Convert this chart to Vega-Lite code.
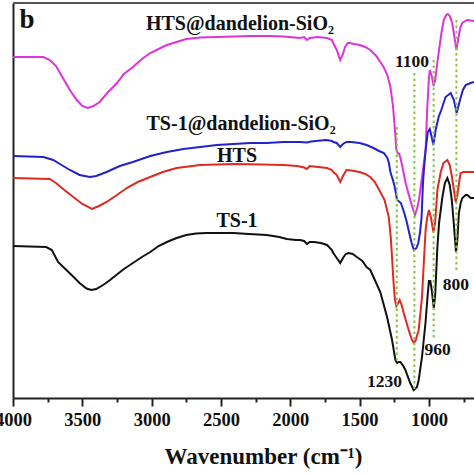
{
  "$schema": "https://vega.github.io/schema/vega-lite/v6.json",
  "autosize": {"type": "none"},
  "padding": {"left": 13, "top": 3, "right": 0, "bottom": 76},
  "width": 461,
  "height": 395,
  "background": "white",
  "config": {"view": {"stroke": null}, "font": "Liberation Serif"},
  "resolve": {"axis": {"x": "independent", "y": "independent"}},
  "datasets": {
    "curves": [
      {"s": "HTS@dandelion-SiO2", "wn": 4000, "t": 341}, {"s": "HTS@dandelion-SiO2", "wn": 3780, "t": 341},
      {"s": "HTS@dandelion-SiO2", "wn": 3735, "t": 338}, {"s": "HTS@dandelion-SiO2", "wn": 3690, "t": 332},
      {"s": "HTS@dandelion-SiO2", "wn": 3640, "t": 320}, {"s": "HTS@dandelion-SiO2", "wn": 3590, "t": 308},
      {"s": "HTS@dandelion-SiO2", "wn": 3540, "t": 298}, {"s": "HTS@dandelion-SiO2", "wn": 3500, "t": 292},
      {"s": "HTS@dandelion-SiO2", "wn": 3460, "t": 290}, {"s": "HTS@dandelion-SiO2", "wn": 3420, "t": 292},
      {"s": "HTS@dandelion-SiO2", "wn": 3375, "t": 296}, {"s": "HTS@dandelion-SiO2", "wn": 3320, "t": 305},
      {"s": "HTS@dandelion-SiO2", "wn": 3250, "t": 315}, {"s": "HTS@dandelion-SiO2", "wn": 3200, "t": 324},
      {"s": "HTS@dandelion-SiO2", "wn": 3135, "t": 331}, {"s": "HTS@dandelion-SiO2", "wn": 3070, "t": 339},
      {"s": "HTS@dandelion-SiO2", "wn": 3010, "t": 345}, {"s": "HTS@dandelion-SiO2", "wn": 2950, "t": 349},
      {"s": "HTS@dandelion-SiO2", "wn": 2890, "t": 353}, {"s": "HTS@dandelion-SiO2", "wn": 2820, "t": 356},
      {"s": "HTS@dandelion-SiO2", "wn": 2750, "t": 359}, {"s": "HTS@dandelion-SiO2", "wn": 2650, "t": 360.5},
      {"s": "HTS@dandelion-SiO2", "wn": 2530, "t": 361}, {"s": "HTS@dandelion-SiO2", "wn": 2400, "t": 361.5},
      {"s": "HTS@dandelion-SiO2", "wn": 2290, "t": 362}, {"s": "HTS@dandelion-SiO2", "wn": 2150, "t": 362},
      {"s": "HTS@dandelion-SiO2", "wn": 2050, "t": 361.5}, {"s": "HTS@dandelion-SiO2", "wn": 1970, "t": 360.5},
      {"s": "HTS@dandelion-SiO2", "wn": 1930, "t": 360}, {"s": "HTS@dandelion-SiO2", "wn": 1900, "t": 361},
      {"s": "HTS@dandelion-SiO2", "wn": 1880, "t": 358}, {"s": "HTS@dandelion-SiO2", "wn": 1860, "t": 360},
      {"s": "HTS@dandelion-SiO2", "wn": 1800, "t": 361}, {"s": "HTS@dandelion-SiO2", "wn": 1735, "t": 360},
      {"s": "HTS@dandelion-SiO2", "wn": 1700, "t": 358}, {"s": "HTS@dandelion-SiO2", "wn": 1690, "t": 355},
      {"s": "HTS@dandelion-SiO2", "wn": 1665, "t": 348}, {"s": "HTS@dandelion-SiO2", "wn": 1640, "t": 338},
      {"s": "HTS@dandelion-SiO2", "wn": 1620, "t": 344}, {"s": "HTS@dandelion-SiO2", "wn": 1605, "t": 351},
      {"s": "HTS@dandelion-SiO2", "wn": 1585, "t": 355}, {"s": "HTS@dandelion-SiO2", "wn": 1570, "t": 355},
      {"s": "HTS@dandelion-SiO2", "wn": 1540, "t": 354}, {"s": "HTS@dandelion-SiO2", "wn": 1500, "t": 353},
      {"s": "HTS@dandelion-SiO2", "wn": 1460, "t": 351}, {"s": "HTS@dandelion-SiO2", "wn": 1423, "t": 348},
      {"s": "HTS@dandelion-SiO2", "wn": 1380, "t": 342}, {"s": "HTS@dandelion-SiO2", "wn": 1327, "t": 331},
      {"s": "HTS@dandelion-SiO2", "wn": 1300, "t": 323}, {"s": "HTS@dandelion-SiO2", "wn": 1278, "t": 311},
      {"s": "HTS@dandelion-SiO2", "wn": 1260, "t": 293}, {"s": "HTS@dandelion-SiO2", "wn": 1245, "t": 268},
      {"s": "HTS@dandelion-SiO2", "wn": 1235, "t": 248}, {"s": "HTS@dandelion-SiO2", "wn": 1225, "t": 245},
      {"s": "HTS@dandelion-SiO2", "wn": 1215, "t": 244}, {"s": "HTS@dandelion-SiO2", "wn": 1205, "t": 240},
      {"s": "HTS@dandelion-SiO2", "wn": 1190, "t": 230}, {"s": "HTS@dandelion-SiO2", "wn": 1168, "t": 215},
      {"s": "HTS@dandelion-SiO2", "wn": 1145, "t": 203}, {"s": "HTS@dandelion-SiO2", "wn": 1120, "t": 191},
      {"s": "HTS@dandelion-SiO2", "wn": 1101, "t": 183}, {"s": "HTS@dandelion-SiO2", "wn": 1085, "t": 190},
      {"s": "HTS@dandelion-SiO2", "wn": 1072, "t": 198}, {"s": "HTS@dandelion-SiO2", "wn": 1043, "t": 228},
      {"s": "HTS@dandelion-SiO2", "wn": 1024, "t": 248}, {"s": "HTS@dandelion-SiO2", "wn": 1013, "t": 288},
      {"s": "HTS@dandelion-SiO2", "wn": 1000, "t": 320}, {"s": "HTS@dandelion-SiO2", "wn": 994, "t": 328},
      {"s": "HTS@dandelion-SiO2", "wn": 980, "t": 322}, {"s": "HTS@dandelion-SiO2", "wn": 966, "t": 312},
      {"s": "HTS@dandelion-SiO2", "wn": 955, "t": 318}, {"s": "HTS@dandelion-SiO2", "wn": 940, "t": 335},
      {"s": "HTS@dandelion-SiO2", "wn": 925, "t": 350}, {"s": "HTS@dandelion-SiO2", "wn": 910, "t": 365},
      {"s": "HTS@dandelion-SiO2", "wn": 893, "t": 378}, {"s": "HTS@dandelion-SiO2", "wn": 875, "t": 383},
      {"s": "HTS@dandelion-SiO2", "wn": 864, "t": 384}, {"s": "HTS@dandelion-SiO2", "wn": 850, "t": 382},
      {"s": "HTS@dandelion-SiO2", "wn": 832, "t": 375}, {"s": "HTS@dandelion-SiO2", "wn": 815, "t": 360},
      {"s": "HTS@dandelion-SiO2", "wn": 802, "t": 348}, {"s": "HTS@dandelion-SiO2", "wn": 790, "t": 358},
      {"s": "HTS@dandelion-SiO2", "wn": 775, "t": 370}, {"s": "HTS@dandelion-SiO2", "wn": 760, "t": 375},
      {"s": "HTS@dandelion-SiO2", "wn": 724, "t": 378}, {"s": "HTS@dandelion-SiO2", "wn": 700, "t": 377.5},
      {"s": "HTS@dandelion-SiO2", "wn": 675, "t": 377},

      {"s": "TS-1@dandelion-SiO2", "wn": 4000, "t": 242}, {"s": "TS-1@dandelion-SiO2", "wn": 3780, "t": 241},
      {"s": "TS-1@dandelion-SiO2", "wn": 3710, "t": 238}, {"s": "TS-1@dandelion-SiO2", "wn": 3650, "t": 233},
      {"s": "TS-1@dandelion-SiO2", "wn": 3590, "t": 228}, {"s": "TS-1@dandelion-SiO2", "wn": 3520, "t": 223},
      {"s": "TS-1@dandelion-SiO2", "wn": 3445, "t": 221}, {"s": "TS-1@dandelion-SiO2", "wn": 3400, "t": 222},
      {"s": "TS-1@dandelion-SiO2", "wn": 3325, "t": 226}, {"s": "TS-1@dandelion-SiO2", "wn": 3230, "t": 232},
      {"s": "TS-1@dandelion-SiO2", "wn": 3135, "t": 236}, {"s": "TS-1@dandelion-SiO2", "wn": 3010, "t": 242},
      {"s": "TS-1@dandelion-SiO2", "wn": 2890, "t": 246}, {"s": "TS-1@dandelion-SiO2", "wn": 2770, "t": 249},
      {"s": "TS-1@dandelion-SiO2", "wn": 2650, "t": 251}, {"s": "TS-1@dandelion-SiO2", "wn": 2530, "t": 253},
      {"s": "TS-1@dandelion-SiO2", "wn": 2410, "t": 254}, {"s": "TS-1@dandelion-SiO2", "wn": 2290, "t": 255},
      {"s": "TS-1@dandelion-SiO2", "wn": 2170, "t": 255}, {"s": "TS-1@dandelion-SiO2", "wn": 2050, "t": 256},
      {"s": "TS-1@dandelion-SiO2", "wn": 1930, "t": 256}, {"s": "TS-1@dandelion-SiO2", "wn": 1880, "t": 255.5},
      {"s": "TS-1@dandelion-SiO2", "wn": 1850, "t": 256.5}, {"s": "TS-1@dandelion-SiO2", "wn": 1780, "t": 257.5},
      {"s": "TS-1@dandelion-SiO2", "wn": 1740, "t": 258}, {"s": "TS-1@dandelion-SiO2", "wn": 1700, "t": 257},
      {"s": "TS-1@dandelion-SiO2", "wn": 1690, "t": 256}, {"s": "TS-1@dandelion-SiO2", "wn": 1665, "t": 255},
      {"s": "TS-1@dandelion-SiO2", "wn": 1640, "t": 251}, {"s": "TS-1@dandelion-SiO2", "wn": 1620, "t": 254},
      {"s": "TS-1@dandelion-SiO2", "wn": 1595, "t": 256}, {"s": "TS-1@dandelion-SiO2", "wn": 1560, "t": 256},
      {"s": "TS-1@dandelion-SiO2", "wn": 1500, "t": 255}, {"s": "TS-1@dandelion-SiO2", "wn": 1450, "t": 253},
      {"s": "TS-1@dandelion-SiO2", "wn": 1400, "t": 250}, {"s": "TS-1@dandelion-SiO2", "wn": 1360, "t": 247},
      {"s": "TS-1@dandelion-SiO2", "wn": 1325, "t": 245}, {"s": "TS-1@dandelion-SiO2", "wn": 1300, "t": 240},
      {"s": "TS-1@dandelion-SiO2", "wn": 1289, "t": 235}, {"s": "TS-1@dandelion-SiO2", "wn": 1278, "t": 226},
      {"s": "TS-1@dandelion-SiO2", "wn": 1260, "t": 218}, {"s": "TS-1@dandelion-SiO2", "wn": 1250, "t": 213},
      {"s": "TS-1@dandelion-SiO2", "wn": 1240, "t": 206}, {"s": "TS-1@dandelion-SiO2", "wn": 1230, "t": 198},
      {"s": "TS-1@dandelion-SiO2", "wn": 1220, "t": 197}, {"s": "TS-1@dandelion-SiO2", "wn": 1202, "t": 195},
      {"s": "TS-1@dandelion-SiO2", "wn": 1178, "t": 185}, {"s": "TS-1@dandelion-SiO2", "wn": 1160, "t": 176},
      {"s": "TS-1@dandelion-SiO2", "wn": 1142, "t": 165}, {"s": "TS-1@dandelion-SiO2", "wn": 1125, "t": 155},
      {"s": "TS-1@dandelion-SiO2", "wn": 1108, "t": 148}, {"s": "TS-1@dandelion-SiO2", "wn": 1090, "t": 150},
      {"s": "TS-1@dandelion-SiO2", "wn": 1077, "t": 155}, {"s": "TS-1@dandelion-SiO2", "wn": 1065, "t": 165},
      {"s": "TS-1@dandelion-SiO2", "wn": 1053, "t": 181}, {"s": "TS-1@dandelion-SiO2", "wn": 1043, "t": 215},
      {"s": "TS-1@dandelion-SiO2", "wn": 1034, "t": 232}, {"s": "TS-1@dandelion-SiO2", "wn": 1024, "t": 248},
      {"s": "TS-1@dandelion-SiO2", "wn": 1008, "t": 266}, {"s": "TS-1@dandelion-SiO2", "wn": 994, "t": 269},
      {"s": "TS-1@dandelion-SiO2", "wn": 980, "t": 261}, {"s": "TS-1@dandelion-SiO2", "wn": 968, "t": 253},
      {"s": "TS-1@dandelion-SiO2", "wn": 952, "t": 268}, {"s": "TS-1@dandelion-SiO2", "wn": 930, "t": 281},
      {"s": "TS-1@dandelion-SiO2", "wn": 911, "t": 288}, {"s": "TS-1@dandelion-SiO2", "wn": 880, "t": 301},
      {"s": "TS-1@dandelion-SiO2", "wn": 843, "t": 305}, {"s": "TS-1@dandelion-SiO2", "wn": 820, "t": 298},
      {"s": "TS-1@dandelion-SiO2", "wn": 800, "t": 285}, {"s": "TS-1@dandelion-SiO2", "wn": 776, "t": 298},
      {"s": "TS-1@dandelion-SiO2", "wn": 755, "t": 308}, {"s": "TS-1@dandelion-SiO2", "wn": 735, "t": 313},
      {"s": "TS-1@dandelion-SiO2", "wn": 699, "t": 315}, {"s": "TS-1@dandelion-SiO2", "wn": 675, "t": 316},

      {"s": "HTS", "wn": 4000, "t": 220}, {"s": "HTS", "wn": 3735, "t": 219},
      {"s": "HTS", "wn": 3690, "t": 215}, {"s": "HTS", "wn": 3630, "t": 208},
      {"s": "HTS", "wn": 3565, "t": 201}, {"s": "HTS", "wn": 3500, "t": 194},
      {"s": "HTS", "wn": 3430, "t": 189}, {"s": "HTS", "wn": 3380, "t": 192},
      {"s": "HTS", "wn": 3325, "t": 196}, {"s": "HTS", "wn": 3250, "t": 203},
      {"s": "HTS", "wn": 3180, "t": 210}, {"s": "HTS", "wn": 3100, "t": 216},
      {"s": "HTS", "wn": 3010, "t": 221}, {"s": "HTS", "wn": 2920, "t": 226},
      {"s": "HTS", "wn": 2820, "t": 230}, {"s": "HTS", "wn": 2650, "t": 233},
      {"s": "HTS", "wn": 2410, "t": 234}, {"s": "HTS", "wn": 2200, "t": 233.5},
      {"s": "HTS", "wn": 2050, "t": 233}, {"s": "HTS", "wn": 1950, "t": 232},
      {"s": "HTS", "wn": 1900, "t": 230.5}, {"s": "HTS", "wn": 1880, "t": 229},
      {"s": "HTS", "wn": 1860, "t": 232}, {"s": "HTS", "wn": 1800, "t": 231},
      {"s": "HTS", "wn": 1735, "t": 230}, {"s": "HTS", "wn": 1700, "t": 228},
      {"s": "HTS", "wn": 1690, "t": 226}, {"s": "HTS", "wn": 1665, "t": 223},
      {"s": "HTS", "wn": 1640, "t": 216}, {"s": "HTS", "wn": 1620, "t": 222},
      {"s": "HTS", "wn": 1595, "t": 228}, {"s": "HTS", "wn": 1560, "t": 227.5},
      {"s": "HTS", "wn": 1500, "t": 226}, {"s": "HTS", "wn": 1460, "t": 224},
      {"s": "HTS", "wn": 1423, "t": 221}, {"s": "HTS", "wn": 1390, "t": 216},
      {"s": "HTS", "wn": 1351, "t": 206}, {"s": "HTS", "wn": 1320, "t": 198},
      {"s": "HTS", "wn": 1290, "t": 181}, {"s": "HTS", "wn": 1275, "t": 160},
      {"s": "HTS", "wn": 1265, "t": 138}, {"s": "HTS", "wn": 1255, "t": 115},
      {"s": "HTS", "wn": 1245, "t": 98}, {"s": "HTS", "wn": 1235, "t": 92},
      {"s": "HTS", "wn": 1222, "t": 95}, {"s": "HTS", "wn": 1211, "t": 98},
      {"s": "HTS", "wn": 1195, "t": 92}, {"s": "HTS", "wn": 1182, "t": 85},
      {"s": "HTS", "wn": 1146, "t": 68}, {"s": "HTS", "wn": 1125, "t": 59},
      {"s": "HTS", "wn": 1108, "t": 55}, {"s": "HTS", "wn": 1095, "t": 58},
      {"s": "HTS", "wn": 1074, "t": 68}, {"s": "HTS", "wn": 1050, "t": 101},
      {"s": "HTS", "wn": 1036, "t": 138}, {"s": "HTS", "wn": 1024, "t": 168},
      {"s": "HTS", "wn": 1013, "t": 180}, {"s": "HTS", "wn": 1000, "t": 188},
      {"s": "HTS", "wn": 985, "t": 180}, {"s": "HTS", "wn": 968, "t": 166},
      {"s": "HTS", "wn": 955, "t": 176}, {"s": "HTS", "wn": 939, "t": 208},
      {"s": "HTS", "wn": 915, "t": 226}, {"s": "HTS", "wn": 895, "t": 235},
      {"s": "HTS", "wn": 867, "t": 238}, {"s": "HTS", "wn": 850, "t": 233},
      {"s": "HTS", "wn": 835, "t": 222}, {"s": "HTS", "wn": 820, "t": 208},
      {"s": "HTS", "wn": 807, "t": 196}, {"s": "HTS", "wn": 795, "t": 203},
      {"s": "HTS", "wn": 780, "t": 218}, {"s": "HTS", "wn": 771, "t": 225},
      {"s": "HTS", "wn": 750, "t": 226}, {"s": "HTS", "wn": 700, "t": 226},
      {"s": "HTS", "wn": 675, "t": 226},

      {"s": "TS-1", "wn": 4000, "t": 152}, {"s": "TS-1", "wn": 3760, "t": 151},
      {"s": "TS-1", "wn": 3720, "t": 148}, {"s": "TS-1", "wn": 3675, "t": 136},
      {"s": "TS-1", "wn": 3615, "t": 128}, {"s": "TS-1", "wn": 3570, "t": 122},
      {"s": "TS-1", "wn": 3520, "t": 115}, {"s": "TS-1", "wn": 3470, "t": 109.5},
      {"s": "TS-1", "wn": 3435, "t": 108}, {"s": "TS-1", "wn": 3400, "t": 109},
      {"s": "TS-1", "wn": 3350, "t": 113}, {"s": "TS-1", "wn": 3300, "t": 118},
      {"s": "TS-1", "wn": 3255, "t": 123}, {"s": "TS-1", "wn": 3200, "t": 129},
      {"s": "TS-1", "wn": 3135, "t": 135}, {"s": "TS-1", "wn": 3070, "t": 141},
      {"s": "TS-1", "wn": 3010, "t": 146}, {"s": "TS-1", "wn": 2950, "t": 152},
      {"s": "TS-1", "wn": 2890, "t": 156}, {"s": "TS-1", "wn": 2820, "t": 160},
      {"s": "TS-1", "wn": 2750, "t": 163}, {"s": "TS-1", "wn": 2680, "t": 164.5},
      {"s": "TS-1", "wn": 2605, "t": 165}, {"s": "TS-1", "wn": 2500, "t": 165},
      {"s": "TS-1", "wn": 2410, "t": 165}, {"s": "TS-1", "wn": 2300, "t": 164},
      {"s": "TS-1", "wn": 2170, "t": 163}, {"s": "TS-1", "wn": 2080, "t": 161},
      {"s": "TS-1", "wn": 2025, "t": 159}, {"s": "TS-1", "wn": 1960, "t": 158},
      {"s": "TS-1", "wn": 1930, "t": 158}, {"s": "TS-1", "wn": 1900, "t": 157},
      {"s": "TS-1", "wn": 1880, "t": 154}, {"s": "TS-1", "wn": 1860, "t": 156},
      {"s": "TS-1", "wn": 1830, "t": 156}, {"s": "TS-1", "wn": 1780, "t": 155},
      {"s": "TS-1", "wn": 1735, "t": 153}, {"s": "TS-1", "wn": 1700, "t": 148},
      {"s": "TS-1", "wn": 1690, "t": 145}, {"s": "TS-1", "wn": 1665, "t": 140},
      {"s": "TS-1", "wn": 1640, "t": 135}, {"s": "TS-1", "wn": 1620, "t": 140},
      {"s": "TS-1", "wn": 1600, "t": 144}, {"s": "TS-1", "wn": 1580, "t": 145},
      {"s": "TS-1", "wn": 1550, "t": 144}, {"s": "TS-1", "wn": 1520, "t": 141},
      {"s": "TS-1", "wn": 1480, "t": 137}, {"s": "TS-1", "wn": 1450, "t": 131},
      {"s": "TS-1", "wn": 1423, "t": 128}, {"s": "TS-1", "wn": 1400, "t": 121},
      {"s": "TS-1", "wn": 1351, "t": 106}, {"s": "TS-1", "wn": 1302, "t": 81},
      {"s": "TS-1", "wn": 1266, "t": 58}, {"s": "TS-1", "wn": 1242, "t": 38},
      {"s": "TS-1", "wn": 1230, "t": 35}, {"s": "TS-1", "wn": 1218, "t": 36},
      {"s": "TS-1", "wn": 1206, "t": 36}, {"s": "TS-1", "wn": 1185, "t": 32},
      {"s": "TS-1", "wn": 1170, "t": 28}, {"s": "TS-1", "wn": 1135, "t": 15},
      {"s": "TS-1", "wn": 1110, "t": 8}, {"s": "TS-1", "wn": 1086, "t": 11},
      {"s": "TS-1", "wn": 1074, "t": 18}, {"s": "TS-1", "wn": 1050, "t": 41},
      {"s": "TS-1", "wn": 1025, "t": 75}, {"s": "TS-1", "wn": 1008, "t": 105},
      {"s": "TS-1", "wn": 1000, "t": 117}, {"s": "TS-1", "wn": 990, "t": 117},
      {"s": "TS-1", "wn": 980, "t": 108}, {"s": "TS-1", "wn": 965, "t": 90},
      {"s": "TS-1", "wn": 955, "t": 103}, {"s": "TS-1", "wn": 945, "t": 133},
      {"s": "TS-1", "wn": 939, "t": 151}, {"s": "TS-1", "wn": 927, "t": 175},
      {"s": "TS-1", "wn": 903, "t": 201}, {"s": "TS-1", "wn": 885, "t": 215},
      {"s": "TS-1", "wn": 867, "t": 220}, {"s": "TS-1", "wn": 850, "t": 213},
      {"s": "TS-1", "wn": 835, "t": 198}, {"s": "TS-1", "wn": 820, "t": 173},
      {"s": "TS-1", "wn": 805, "t": 146}, {"s": "TS-1", "wn": 795, "t": 158},
      {"s": "TS-1", "wn": 784, "t": 185}, {"s": "TS-1", "wn": 771, "t": 195},
      {"s": "TS-1", "wn": 759, "t": 200}, {"s": "TS-1", "wn": 735, "t": 203},
      {"s": "TS-1", "wn": 723, "t": 203}, {"s": "TS-1", "wn": 699, "t": 200},
      {"s": "TS-1", "wn": 675, "t": 200}
    ],
    "frame": [
      {"top": 395}
    ],
    "peaks": [
      {"wn": 1232, "top": 271, "bottom": 35},
      {"wn": 1105, "top": 325, "bottom": 6},
      {"wn": 966, "top": 338, "bottom": 58},
      {"wn": 802, "top": 378, "bottom": 126}
    ],
    "names": [
      {"wn": 2363, "t": 368, "label": "HTS@dandelion-SiO₂"},
      {"wn": 2355, "t": 268, "label": "TS-1@dandelion-SiO₂"},
      {"wn": 2384, "t": 236, "label": "HTS"},
      {"wn": 2384, "t": 171, "label": "TS-1"}
    ],
    "peaklabels": [
      {"wn": 1122, "t": 331, "label": "1100"},
      {"wn": 1320, "t": 11, "label": "1230"},
      {"wn": 938, "t": 43, "label": "960"},
      {"wn": 805, "t": 108, "label": "800"}
    ],
    "panel": [
      {"wn": 3899, "t": 370, "label": "b"}
    ]
  },
  "layer": [
    {
      "data": {"name": "curves"},
      "mark": {"type": "line", "strokeWidth": 2, "clip": true},
      "encoding": {
        "x": {
          "field": "wn", "type": "quantitative",
          "scale": {"domain": [4000, 675], "nice": false, "zero": false},
          "axis": {
            "orient": "bottom",
            "values": [4000, 3750, 3500, 3250, 3000, 2750, 2500, 2250, 2000, 1750, 1500, 1250, 1000, 750],
            "labelExpr": "datum.value % 500 === 0 ? datum.label : ''",
            "format": "d",
            "tickSize": {"condition": {"test": "datum.value % 500 !== 0", "value": 4}, "value": 8},
            "tickWidth": 2, "tickColor": "#222",
            "domainColor": "#222", "domainWidth": 2,
            "grid": false,
            "labelFont": "Liberation Serif", "labelFontWeight": "bold", "labelFontSize": 18.5,
            "labelColor": "#111", "labelPadding": 4, "labelFlush": false, "labelOverlap": false,
            "title": "Wavenumber (cm⁻¹)",
            "titleFont": "Liberation Serif", "titleFontWeight": "bold", "titleFontSize": 23,
            "titleColor": "#111", "titleX": 250, "titleY": 65, "titleAlign": "center",
            "titleBaseline": "alphabetic", "titleAnchor": null
          }
        },
        "y": {
          "field": "t", "type": "quantitative",
          "scale": {"domain": [0, 395], "nice": false, "zero": false},
          "axis": {"labels": false, "ticks": false, "title": null, "grid": false, "domainColor": "#222", "domainWidth": 2}
        },
        "color": {
          "field": "s", "type": "nominal",
          "scale": {
            "domain": ["HTS@dandelion-SiO2", "TS-1@dandelion-SiO2", "HTS", "TS-1"],
            "range": ["#dd33dd", "#2222cc", "#dd2a22", "#111111"]
          },
          "legend": null
        }
      }
    },
    {
      "data": {"name": "frame"},
      "mark": {"type": "rule", "color": "#555555", "strokeWidth": 2},
      "encoding": {
        "y": {"field": "top", "type": "quantitative", "axis": null}
      }
    },
    {
      "data": {"name": "peaks"},
      "mark": {"type": "rule", "color": "#86c440", "strokeWidth": 2, "strokeDash": [2.5, 3]},
      "encoding": {
        "x": {"field": "wn", "type": "quantitative", "axis": null},
        "y": {"field": "top", "type": "quantitative", "axis": null},
        "y2": {"field": "bottom"}
      }
    },
    {
      "data": {"name": "names"},
      "mark": {"type": "text", "font": "Liberation Serif", "fontWeight": "bold", "fontSize": 20, "align": "center", "baseline": "alphabetic", "color": "#111"},
      "encoding": {
        "x": {"field": "wn", "type": "quantitative", "axis": null},
        "y": {"field": "t", "type": "quantitative", "axis": null},
        "text": {"field": "label"}
      }
    },
    {
      "data": {"name": "peaklabels"},
      "mark": {"type": "text", "font": "Liberation Serif", "fontWeight": "bold", "fontSize": 17.5, "align": "center", "baseline": "alphabetic", "color": "#111"},
      "encoding": {
        "x": {"field": "wn", "type": "quantitative", "axis": null},
        "y": {"field": "t", "type": "quantitative", "axis": null},
        "text": {"field": "label"}
      }
    },
    {
      "data": {"name": "panel"},
      "mark": {"type": "text", "font": "Liberation Serif", "fontWeight": "bold", "fontSize": 27, "align": "center", "baseline": "alphabetic", "color": "#111"},
      "encoding": {
        "x": {"field": "wn", "type": "quantitative", "axis": null},
        "y": {"field": "t", "type": "quantitative", "axis": null},
        "text": {"field": "label"}
      }
    }
  ]
}
